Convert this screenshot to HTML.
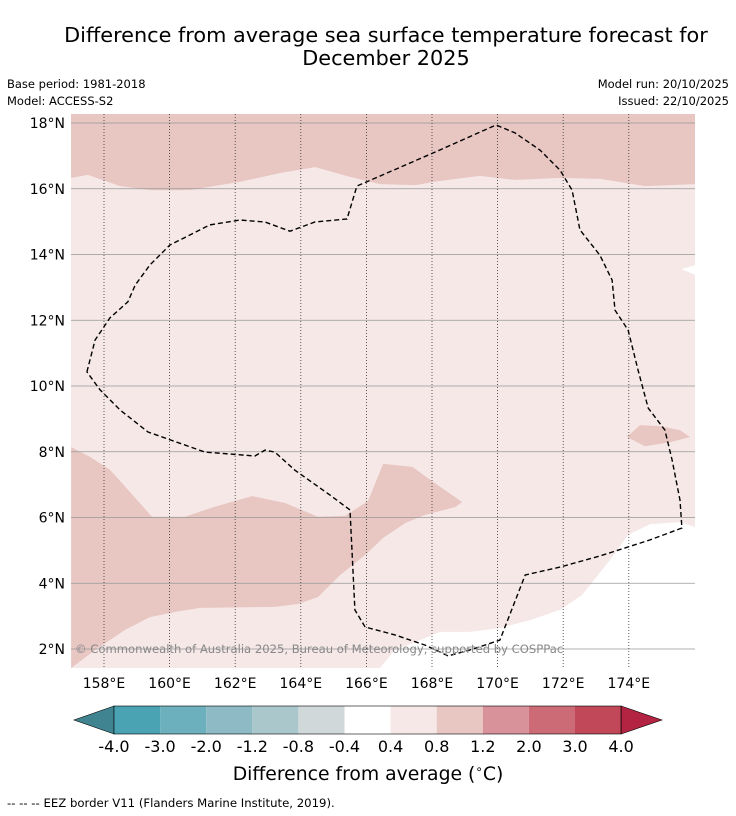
<!DOCTYPE html>
<html><head><meta charset="utf-8">
<style>
body{margin:0;background:#fff;font-family:"DejaVu Sans","Liberation Sans",sans-serif;}
#wrap{position:relative;width:736px;height:816px;overflow:hidden;background:#fff}
svg{font-family:"DejaVu Sans","Liberation Sans",sans-serif;}
</style></head>
<body>
<div id="wrap">
<svg id="svg" width="736" height="816" xmlns="http://www.w3.org/2000/svg">
<text x="386" y="42" font-size="20.8" text-anchor="middle" fill="#000">Difference from average sea surface temperature forecast for</text>
<text x="386" y="65" font-size="20.8" text-anchor="middle" fill="#000">December 2025</text>
<text x="7" y="88" font-size="11.5">Base period: 1981-2018</text>
<text x="7" y="105" font-size="11.5">Model: ACCESS-S2</text>
<text x="729" y="88" font-size="11.5" text-anchor="end">Model run: 20/10/2025</text>
<text x="729" y="105" font-size="11.5" text-anchor="end">Issued: 22/10/2025</text>
<defs><clipPath id="mapclip"><rect x="71" y="114" width="624" height="554"/></clipPath></defs>
<g id="map" clip-path="url(#mapclip)"></g>
<g id="axes"></g>
<g id="cbar"></g>
<text x="368" y="780" font-size="18.8" text-anchor="middle">Difference from average (<tspan font-size="12" dy="-7">∘</tspan><tspan dy="7">C)</tspan></text>
<text x="7" y="807" font-size="11.7">--  --  -- EEZ border V11 (Flanders Marine Institute, 2019).</text>
</svg>
</div>
<script>
const lonTicks=[158,160,162,164,166,168,170,172,174];
const latTicks=[2,4,6,8,10,12,14,16,18];
const topRegionLon=[157.0,157.51,158.49,159.40,160.62,162.15,163.37,164.44,165.50,166.42,167.49,168.25,169.46,170.53,171.91,173.13,174.50,176.02];
const topRegionLat=[16.33,16.42,16.08,15.96,15.96,16.21,16.48,16.66,16.36,16.14,16.11,16.24,16.39,16.27,16.33,16.30,16.08,16.14];
const lowRegionLon=[157.0,157.58,158.18,158.79,159.46,160.47,161.38,162.51,163.52,164.52,165.35,166.05,166.51,167.40,168.25,168.92,168.71,167.79,167.18,166.51,165.96,165.20,164.52,163.91,163.21,160.93,160.17,159.40,158.64,157.73,157.0];
const lowRegionLat=[8.14,7.84,7.45,6.78,6.02,6.02,6.33,6.65,6.44,6.02,6.05,6.50,7.63,7.54,6.93,6.47,6.32,6.08,5.83,5.38,4.86,4.25,3.58,3.37,3.28,3.25,3.13,2.97,2.58,1.97,1.42];
const patchLon=[173.94,174.34,174.95,175.56,175.87,175.26,174.49];
const patchLat=[8.45,8.81,8.78,8.66,8.45,8.29,8.17];
const whiteLon=[176.02,175.56,174.65,173.98,173.43,172.57,171.90,170.99,170.07,169.16,168.24,167.63,166.87,166.41,176.02];
const whiteLat=[5.71,5.86,5.80,5.47,4.71,3.64,3.19,2.88,2.64,2.52,2.52,2.27,1.97,1.42,1.42];
const eezLon=[157.48,157.73,158.18,158.73,158.95,159.40,160.01,161.23,162.15,162.91,163.67,164.43,165.41,165.71,168.24,169.95,170.53,171.29,171.90,172.27,172.51,173.12,173.49,173.58,173.98,174.28,174.59,175.10,175.32,175.56,175.62,174.65,173.12,171.90,170.84,170.07,169.16,168.49,167.79,166.87,165.96,165.65,165.50,164.89,163.82,163.21,162.91,162.60,161.08,159.34,158.49,157.88,157.48];
const eezLat=[10.43,11.40,12.07,12.56,13.07,13.68,14.29,14.90,15.05,14.99,14.71,14.99,15.08,16.08,17.18,17.94,17.70,17.18,16.57,15.96,14.75,13.98,13.22,12.31,11.70,10.49,9.33,8.66,7.75,6.53,5.68,5.32,4.83,4.49,4.25,2.27,1.97,1.79,2.12,2.43,2.67,3.19,6.23,6.68,7.44,7.99,8.05,7.87,7.99,8.60,9.27,9.88,10.43];
const cbarLabels=["-4.0","-3.0","-2.0","-1.2","-0.8","-0.4","0.4","0.8","1.2","2.0","3.0","4.0"];
const cbarColors=["#4aa3b3","#6cb0bd","#8dbac4","#aac7cc","#d0d8da","#ffffff","#f5e8e7","#e8c6c2","#d8929a","#cc6a75","#c04858"];

const NS="http://www.w3.org/2000/svg";
function X(lon){return 104+(lon-158)*32.8;}
function Y(lat){return 123+(18-lat)*32.875;}
function mk(tag,attrs,parent){const e=document.createElementNS(NS,tag);for(const k in attrs)e.setAttribute(k,attrs[k]);parent.appendChild(e);return e;}
function pts(lons,lats){return lons.map((l,i)=>X(l).toFixed(1)+","+Y(lats[i]).toFixed(1)).join(" ");}
const map=document.getElementById('map');
let e=mk('rect',{x:71,y:114,width:624,height:554,fill:'#f5e8e7'},map);


e=mk('polygon',{points:pts(topRegionLon,topRegionLat)+" "+X(176.1)+","+Y(18.4)+" "+X(156.9)+","+Y(18.4),fill:'#e8c6c2'},map);


e=mk('polygon',{points:pts(lowRegionLon,lowRegionLat),fill:'#e8c6c2'},map);


e=mk('polygon',{points:pts(patchLon,patchLat),fill:'#e8c6c2'},map);


e=mk('polygon',{points:pts(whiteLon,whiteLat),fill:'#ffffff'},map);


e=mk('polygon',{points:X(175.6)+","+Y(13.55)+" "+X(176.1)+","+Y(13.7)+" "+X(176.1)+","+Y(13.35),fill:'#ffffff'},map);


const axes=document.getElementById('axes');
latTicks.forEach(v=>{
  const l=mk('line',{x1:71,x2:695,y1:Y(v),y2:Y(v),stroke:'#999',"stroke-width":0.8},map);
  
  
  const t=mk('text',{x:65,y:Y(v)+5,"font-size":14,"text-anchor":"end"},axes);t.textContent=v+"°N";
  
  
});
lonTicks.forEach(v=>{
  const l=mk('line',{x1:X(v),x2:X(v),y1:114,y2:668,stroke:'#333',"stroke-width":0.8,"stroke-dasharray":"1,2"},map);
  
  
  const t=mk('text',{x:X(v),y:688,"font-size":14,"text-anchor":"middle"},axes);t.textContent=v+"°E";
  
  
});
e=mk('polyline',{points:pts(eezLon,eezLat),fill:'none',stroke:'#000',"stroke-width":1.4,"stroke-dasharray":"5,3"},map);


e=mk('text',{x:75,y:653,"font-size":11.6,fill:'#888'},map);e.textContent="© Commonwealth of Australia 2025, Bureau of Meteorology, supported by COSPPac";


const cb=document.getElementById('cbar');
const x0=114,w=46.1,y0=706,h=28;
e=mk('polygon',{points:`${x0},${y0} ${x0},${y0+h} 74,${y0+h/2}`,fill:'#3f8490',stroke:'#000',"stroke-width":0.6},cb);


cbarColors.forEach((c,i)=>{
  const r=mk('rect',{x:x0+i*w,y:y0,width:w,height:h,fill:c},cb);
  
  
});
const xe=x0+cbarColors.length*w;
e=mk('polygon',{points:`${xe},${y0} ${xe},${y0+h} 662,${y0+h/2}`,fill:'#b32342',stroke:'#000',"stroke-width":0.6},cb);


mk('rect',{x:x0,y:y0,width:xe-x0,height:h,fill:'none',stroke:'#000',"stroke-width":0.6},cb);
cbarLabels.forEach((s,i)=>{
  const t=mk('text',{x:x0+i*w,y:752,"font-size":16,"text-anchor":"middle"},cb);t.textContent=s;
  
  
});
</script>
</body></html>
